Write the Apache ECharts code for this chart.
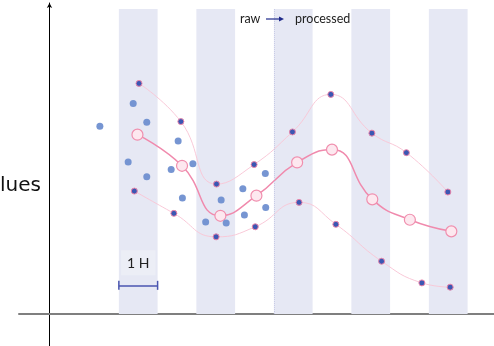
<!DOCTYPE html>
<html>
<head>
<meta charset="utf-8">
<script src="https://cdn.jsdelivr.net/npm/echarts@6/dist/echarts.min.js"></script>
<style>html,body{margin:0;padding:0;background:#fff;}#c{width:494px;height:346px;}</style>
</head>
<body>
<div id="c"></div>
<script>
// x in hours from the value axis, y in arbitrary value units
var bands = [[1.79, 2.79], [3.79, 4.79], [5.79, 6.79], [7.79, 8.79], [9.79, 10.79]];
var rawPoints = [
  [1.30, 61.6], [2.16, 69.0], [2.51, 62.9], [2.03, 49.8], [2.51, 45.0],
  [3.32, 56.7], [3.14, 47.4], [3.70, 49.3], [3.43, 38.0], [4.03, 30.2],
  [4.43, 37.4], [4.56, 29.8], [4.99, 41.1], [5.03, 32.5], [5.57, 46.1], [5.58, 34.9]
];
var upperEnvelope = [
  [2.31, 75.6], [3.39, 63.1], [4.31, 42.6], [5.28, 49.0], [6.27, 59.7],
  [7.26, 72.0], [8.32, 59.3], [9.21, 52.9], [10.28, 40.0]
];
var processed = [
  [2.27, 58.8], [3.42, 48.6], [4.41, 32.2], [5.34, 38.8], [6.39, 49.7],
  [7.29, 53.9], [8.33, 37.6], [9.30, 30.9], [10.37, 27.1]
];
var lowerEnvelope = [
  [2.19, 40.3], [3.21, 33.0], [4.30, 25.3], [5.31, 28.6], [6.44, 36.6],
  [7.39, 29.4], [8.57, 17.3], [9.61, 10.2], [10.34, 8.8]
];
var scaleBar = [1.79, 2.79, 9.4];
var scaleLabel = '1 H';
var dividerX = 5.79;
var yName = 'Values';
var legendFrom = 'raw';
var legendTo = 'processed';

var chart = echarts.init(document.getElementById('c'), null, {renderer: 'canvas'});
var font = 'Lato, "Noto Sans", sans-serif';

var envStyle = {
  type: 'line', smooth: 0.5, symbol: 'circle', symbolSize: 6, showSymbol: true,
  lineStyle: {color: '#f9c9d8', width: 1},
  itemStyle: {color: '#3b57b3', borderColor: '#e985aa', borderWidth: 1},
  z: 3
};

var option = {
  animation: false,
  grid: {left: 19, right: 0, top: 3, bottom: 0},
  xAxis: {
    type: 'value', min: -0.787, max: 11.471,
    axisLine: {show: true, onZero: true, lineStyle: {color: '#7f7f7f', width: 2}},
    axisTick: {show: false}, axisLabel: {show: false}, splitLine: {show: false}
  },
  yAxis: {
    type: 'value', min: -10.49, max: 101.97,
    axisLine: {show: true, onZero: true, symbol: ['none', 'arrow'], symbolSize: [4, 5], lineStyle: {color: '#000', width: 1}},
    axisTick: {show: false}, axisLabel: {show: false}, splitLine: {show: false}
  },
  series: [
    {
      type: 'scatter', name: 'raw', data: rawPoints, symbolSize: 7,
      itemStyle: {color: '#6f8fd0', opacity: 0.95}, z: 5,
      markArea: {
        silent: true,
        itemStyle: {color: '#e6e8f4'},
        data: bands.map(function (b) { return [{xAxis: b[0], yAxis: 0}, {xAxis: b[1], yAxis: 100}]; })
      },
      markLine: {
        silent: true, symbol: ['path://M0,0 L0,10 L1,10 L1,0 Z', 'path://M0,0 L0,10 L1,10 L1,0 Z'], symbolSize: [1.5, 9], symbolRotate: 0,
        lineStyle: {color: '#4a55b0', width: 1.5, type: 'solid'},
        label: {
          show: true, position: 'middle', formatter: scaleLabel, distance: 10,
          fontFamily: font, fontSize: 14, color: '#222',
          backgroundColor: '#eceef6', padding: [6, 6, 5, 6]
        },
        data: [[{coord: [scaleBar[0], scaleBar[2]]}, {coord: [scaleBar[1], scaleBar[2]]}]]
      }
    },
    Object.assign({}, envStyle, {
      name: 'upper', data: upperEnvelope,
      markLine: {
        silent: true, symbol: ['none', 'none'],
        lineStyle: {color: '#c9cce6', width: 1, type: 'dotted'},
        label: {show: false},
        data: [[{coord: [dividerX, 0]}, {coord: [dividerX, 100]}]]
      }
    }),
    Object.assign({}, envStyle, {name: 'lower', data: lowerEnvelope}),
    {
      type: 'line', name: 'processed', data: processed, smooth: 0.5,
      symbol: 'circle', symbolSize: 11, showSymbol: true,
      lineStyle: {color: '#f08aad', width: 1.5},
      itemStyle: {color: '#fde8ef', borderColor: '#f08fae', borderWidth: 1.2},
      z: 4
    }
  ],
  graphic: [
    {type: 'text', z: 100, x: 41, y: 186, style: {text: yName, fontFamily: '"DejaVu Sans", sans-serif', fontSize: 20, fill: '#111', textAlign: 'right', textVerticalAlign: 'middle'}},
    {type: 'text', z: 100, x: 240, y: 19, style: {text: legendFrom, fontFamily: font, fontSize: 12.5, fill: '#222', textAlign: 'left', textVerticalAlign: 'middle'}},
    {type: 'line', z: 100, shape: {x1: 266, y1: 19, x2: 280, y2: 19}, style: {stroke: '#1f2a8a', lineWidth: 1.2}},
    {type: 'polygon', z: 100, shape: {points: [[284, 19], [279, 16.5], [279, 21.5]]}, style: {fill: '#1f2a8a'}},
    {type: 'text', z: 100, x: 295, y: 19, style: {text: legendTo, fontFamily: font, fontSize: 12.5, fill: '#222', textAlign: 'left', textVerticalAlign: 'middle'}}
  ]
};
chart.setOption(option);
</script>
</body>
</html>
